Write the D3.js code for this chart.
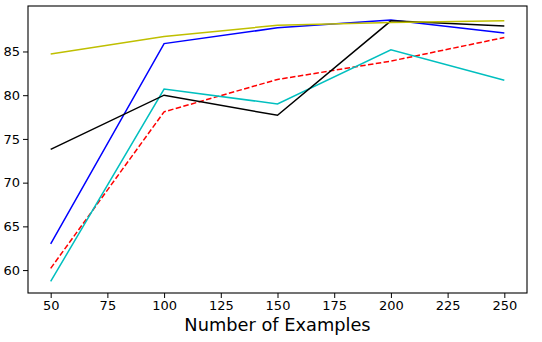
<!DOCTYPE html>
<html>
<head>
<meta charset="utf-8">
<script src="https://cdn.jsdelivr.net/npm/d3@7"></script>
<style>
  body { margin: 0; background: #fff; }
  text { font-family: "DejaVu Sans", sans-serif; fill: #000; }
</style>
</head>
<body>
<div id="chart"></div>
<script>
// data
const examples = [50, 100, 150, 200, 250];
const blueVals   = [63.0, 85.9, 87.7, 88.6, 87.1];
const redVals    = [60.2, 78.1, 81.8, 83.9, 86.6];
const cyanVals   = [58.7, 80.7, 79.0, 85.2, 81.7];
const blackVals  = [73.8, 80.0, 77.7, 88.5, 87.9];
const yellowVals = [84.7, 86.7, 88.0, 88.3, 88.5];
const xTicks = [50, 75, 100, 125, 150, 175, 200, 225, 250];
const yTicks = [60, 65, 70, 75, 80, 85];

const series = [
  { name: "blue",   values: blueVals,   color: "#0000ff", dash: null },
  { name: "red",    values: redVals,    color: "#ff0000", dash: "5.5,2.4" },
  { name: "cyan",   values: cyanVals,   color: "#00bfbf", dash: null },
  { name: "black",  values: blackVals,  color: "#000000", dash: null },
  { name: "yellow", values: yellowVals, color: "#bfbf00", dash: null }
];

var width = 542, height = 342;
var margin = {top: 6, right: 15, bottom: 49, left: 28};
var w = width - margin.left - margin.right,
    h = height - margin.top - margin.bottom;

var svg = d3.select("#chart").append("svg")
    .attr("width", width)
    .attr("height", height);

var x = d3.scaleLinear().domain([40, 260]).range([0, w]);
var y = d3.scaleLinear().domain([57.38, 90.2]).range([h, 0]);

var chart = svg.append("g")
    .attr("transform", "translate(" + margin.left + "," + margin.top + ")");

var line = d3.line()
    .x(function(d) { return x(d[0]); })
    .y(function(d) { return y(d[1]); });

chart.selectAll(".series")
  .data(series)
  .enter().append("path")
    .attr("class", "series")
    .attr("fill", "none")
    .attr("stroke", function(d) { return d.color; })
    .attr("stroke-width", 1.5)
    .attr("stroke-dasharray", function(d) { return d.dash; })
    .attr("d", function(d) { return line(examples.map(function(e, i) { return [e, d.values[i]]; })); });

var xAxis = chart.append("g")
    .attr("transform", "translate(0," + h + ")")
    .call(d3.axisBottom(x).tickValues(xTicks).tickSize(5).tickPadding(3));
var yAxis = chart.append("g")
    .call(d3.axisLeft(y).tickValues(yTicks).tickSize(5).tickPadding(3));

[xAxis, yAxis].forEach(function(a) {
  a.select(".domain").remove();
  a.selectAll("line").attr("stroke", "#000").attr("stroke-width", 1);
  a.selectAll("text").style("font-size", "13px").style("font-family", "DejaVu Sans");
});

// frame
chart.append("rect")
    .attr("width", w)
    .attr("height", h)
    .attr("fill", "none")
    .attr("stroke", "#000")
    .attr("stroke-width", 1.1);

svg.append("text")
    .attr("x", margin.left + w / 2)
    .attr("y", 331)
    .attr("text-anchor", "middle")
    .style("font-size", "17.8px")
    .text("Number of Examples");
</script>
</body>
</html>
